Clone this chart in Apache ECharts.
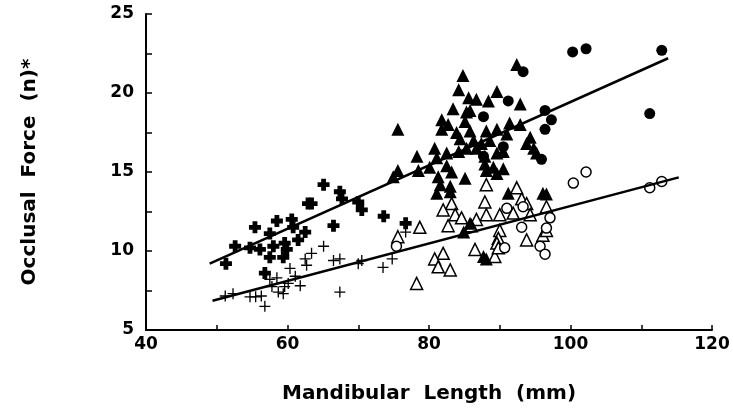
<!DOCTYPE html>
<html>
<head>
<meta charset="utf-8">
<script src="https://cdn.jsdelivr.net/npm/echarts@6/dist/echarts.min.js"></script>
<style>
html,body{margin:0;padding:0;background:#fff;}
#c{width:733px;height:419px;}
</style>
</head>
<body>
<div id="c"></div>
<script>
// x tick labels / y tick labels
const xTicks = [40, 60, 80, 100, 120];
const yTicks = [5, 10, 15, 20, 25];

// Bold crosses (upper group, small mandibles)
const boldCross = [
[65.1,14.2],[67.4,13.75],[67.7,13.3],[70.0,13.1],[70.5,12.6],[62.9,13.0],[63.4,13.0],
[55.4,11.5],[58.5,11.9],[60.6,12.0],[60.8,11.5],[66.5,11.6],[57.5,11.1],[62.5,11.2],
[52.6,10.3],[54.7,10.2],[56.1,10.1],[58.0,10.3],[59.6,10.5],[61.5,10.7],[59.9,10.1],
[57.5,9.6],[59.4,9.6],[51.3,9.2],[56.8,8.6],[73.6,12.2],[76.7,11.75]
];
// Thin crosses (lower group)
const thinCross = [
[51.2,7.15],[52.3,7.3],[54.7,7.1],[55.5,7.1],[56.3,7.15],[56.8,6.5],[57.5,8.2],[57.8,7.75],
[58.5,8.3],[58.7,7.4],[59.4,7.3],[59.6,7.75],[60.1,7.95],[60.35,8.9],[61.1,8.4],[61.8,7.8],
[62.5,9.5],[62.7,9.1],[63.4,9.85],[65.1,10.3],[66.5,9.4],[67.4,9.5],[67.4,7.4],[70.0,9.2],
[70.5,9.4],[73.5,8.96],[74.8,9.5],[76.7,11.2]
];
// Filled triangles
const filledTri = [
[92.4,21.8],[84.8,21.1],[84.2,20.2],[89.6,20.1],[85.6,19.7],[86.7,19.6],[88.4,19.5],[92.9,19.3],
[83.4,19.0],[85.3,18.8],[85.8,18.9],[85.1,18.2],[81.8,18.3],[82.7,18.0],[75.6,17.7],[81.8,17.7],
[83.9,17.5],[85.8,17.6],[88.1,17.6],[89.6,17.7],[91.4,18.1],[92.9,18.0],[84.4,17.1],[86.3,17.0],
[87.4,16.8],[88.6,17.0],[91.0,17.4],[94.3,17.2],[93.8,16.8],[80.8,16.5],[82.5,16.2],[84.2,16.3],
[85.3,16.5],[86.7,16.5],[78.3,16.0],[81.1,15.9],[87.9,16.0],[89.6,16.2],[90.5,16.3],[94.8,16.5],
[95.2,16.2],[75.6,15.1],[78.5,15.1],[80.1,15.3],[82.5,15.4],[87.9,15.5],[89.1,15.3],[90.5,15.2],
[74.95,14.7],[81.3,14.7],[83.2,15.0],[85.1,14.6],[88.1,15.1],[89.6,14.9],[81.6,14.2],[83.0,14.1],
[96.1,13.65],[81.1,13.65],[83.0,13.75],[91.2,13.65],[96.6,13.6],[84.9,11.2],[85.8,11.75],
[87.7,9.65],[88.1,9.5]
];
// Open triangles
const openTri = [
[87.9,13.1],[93.1,13.3],[93.8,13.0],[83.2,13.0],[82.0,12.6],[83.7,12.3],[84.6,12.1],[88.1,12.3],
[86.7,12.0],[90.0,12.3],[91.9,12.4],[94.3,12.3],[96.6,12.8],[82.7,11.6],[86.0,11.6],[78.7,11.5],
[75.6,10.9],[90.0,11.3],[89.8,10.8],[89.6,10.5],[93.8,10.7],[96.1,11.0],[96.6,11.3],[86.5,10.1],
[89.3,9.65],[82.0,9.85],[80.8,9.5],[81.3,9.0],[83.0,8.8],[78.25,7.95],[89.8,10.2],[88.1,14.2],[92.4,14.0]
];
// Filled circles
const filledCircle = [
[93.3,21.35],[91.2,19.5],[87.7,18.5],[96.4,18.9],[97.3,18.3],[96.4,17.7],[90.5,16.6],[95.9,15.8],
[87.7,16.0],[100.3,22.6],[102.2,22.8],[112.9,22.7],[111.2,18.7]
];
// Open circles
const openCircle = [
[91.0,12.7],[97.1,12.1],[93.1,11.5],[96.6,11.45],[90.7,10.2],[95.7,10.3],[96.4,9.8],[75.4,10.3],
[93.3,12.8],[100.4,14.3],[102.2,15.0],[111.2,14.0],[112.9,14.4]
];
// Regression lines
const lineUpper = [[49.0,9.2],[113.8,22.2]];
const lineLower = [[49.4,6.85],[115.3,14.66]];

const boldPlus = 'path://M3,0 H7 V3 H10 V7 H7 V10 H3 V7 H0 V3 H3 Z';
const thinPlus = 'path://M4.4,0 H5.6 V4.4 H10 V5.6 H5.6 V10 H4.4 V5.6 H0 V4.4 H4.4 Z';

const chart = echarts.init(document.getElementById('c'), null, {renderer:'canvas'});
const font = '"DejaVu Sans", "Liberation Sans", Arial, sans-serif';
const black = '#000';
chart.setOption({
  animation:false,
  backgroundColor:'#fff',
  grid:{left:146, right:21, top:14, bottom:89},
  xAxis:{
    type:'value', min:xTicks[0], max:xTicks[xTicks.length-1], interval:20,
    name:'Mandibular  Length  (mm)', nameLocation:'middle', nameGap:54,
    nameTextStyle:{fontFamily:font, fontWeight:'bold', fontSize:20, color:black},
    axisLine:{lineStyle:{color:black, width:2}},
    axisTick:{show:true, inside:true, length:5, lineStyle:{color:black, width:1.5}},
    minorTick:{show:true, splitNumber:2, length:5, lineStyle:{color:black, width:1.5}},
    axisLabel:{fontFamily:font, fontWeight:'bold', fontSize:17, color:black, margin:6},
    splitLine:{show:false}
  },
  yAxis:{
    type:'value', min:yTicks[0], max:yTicks[yTicks.length-1], interval:5,
    name:'Occlusal  Force  (n)*', nameLocation:'middle', nameGap:106, nameRotate:90,
    nameTextStyle:{fontFamily:font, fontWeight:'bold', fontSize:20, color:black},
    axisLine:{lineStyle:{color:black, width:2}},
    axisTick:{show:true, inside:true, length:6, lineStyle:{color:black, width:1.5}},
    minorTick:{show:true, splitNumber:2, length:6, lineStyle:{color:black, width:1.5}},
    axisLabel:{fontFamily:font, fontWeight:'bold', fontSize:17, color:black, margin:12},
    splitLine:{show:false}
  },
  series:[
    {type:'line', data:lineUpper, symbol:'none', lineStyle:{color:black, width:2.5}, z:3},
    {type:'line', data:lineLower, symbol:'none', lineStyle:{color:black, width:2.5}, z:3},
    {type:'scatter', data:thinCross, symbol:thinPlus, symbolSize:11, itemStyle:{color:black, opacity:1}},
    {type:'scatter', data:boldCross, symbol:boldPlus, symbolSize:12, itemStyle:{color:black, opacity:1}},
    {type:'scatter', data:openTri, symbol:'triangle', symbolSize:12, itemStyle:{color:'#fff', borderColor:black, borderWidth:1.5, opacity:1}},
    {type:'scatter', data:openCircle, symbol:'circle', symbolSize:10, itemStyle:{color:'#fff', borderColor:black, borderWidth:1.5, opacity:1}},
    {type:'scatter', data:filledTri, symbol:'triangle', symbolSize:13, itemStyle:{color:black, opacity:1}},
    {type:'scatter', data:filledCircle, symbol:'circle', symbolSize:11, itemStyle:{color:black, opacity:1}}
  ]
});
</script>
</body>
</html>
